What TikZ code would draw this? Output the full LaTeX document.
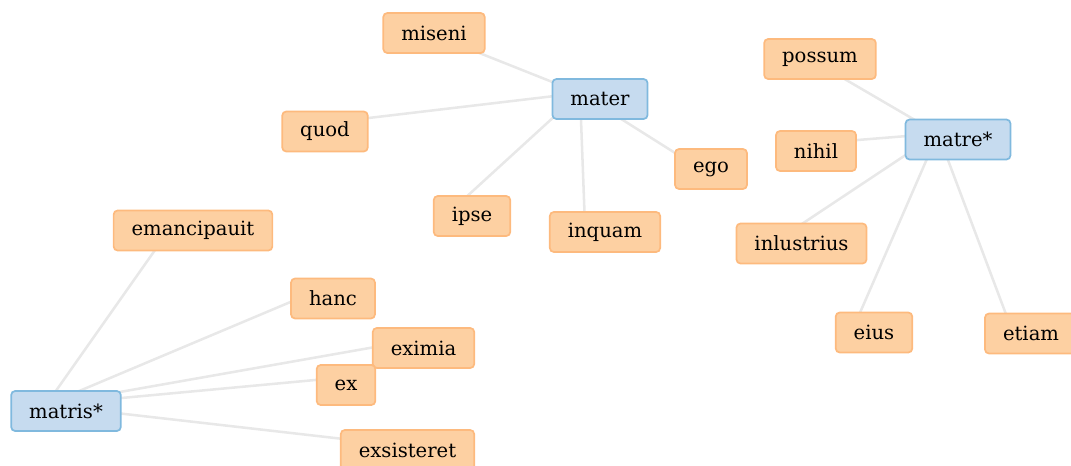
\documentclass[tikz,border=0pt]{standalone}
\usepackage{fontspec}
\setmainfont{DejaVu Serif}
\usetikzlibrary{backgrounds}
\definecolor{wordfill}{HTML}{FDD0A2}
\definecolor{worddraw}{HTML}{FDBA7E}
\definecolor{keyfill}{HTML}{C6DBEF}
\definecolor{keydraw}{HTML}{80B9DE}
\definecolor{linkgray}{HTML}{E8E8E8}

\begin{document}
\begin{tikzpicture}[x=0.75pt,y=-0.75pt]
\tikzstyle{every node}+=[font=\fontsize{14.7}{16}\selectfont, rounded corners=3pt, line width=1.3pt, minimum height=30pt, inner xsep=13.5pt]
\tikzstyle{word}=[draw=worddraw, fill=wordfill]
\tikzstyle{key}=[draw=keydraw, fill=keyfill]
\tikzstyle{link}=[linkgray, line width=1.9pt]
\useasboundingbox (0,0) rectangle (1071,465);
% mater
\node [key] (mater) at (600,99) {mater};
\node [word] (miseni) at (434,33) {miseni};
\node [word] (quod) at (325,131.5) {quod};
\node [word] (ipse) at (472,216) {ipse};
\node [word] (inquam) at (605,232) {inquam};
\node [word] (ego) at (711,169) {ego};
% matre*
\node [key] (matre) at (958,139.5) {matre*};
\node [word] (possum) at (820,59) {possum};
\node [word] (nihil) at (816,151) {nihil};
\node [word] (inlustrius) at (801.5,243.5) {inlustrius};
\node [word] (eius) at (874,332.5) {eius};
\node [word] (etiam) at (1031,333.5) {etiam};
% matris*
\node [key] (matris) at (66,411) {matris*};
\node [word] (emancipauit) at (193,230.5) {emancipauit};
\node [word] (hanc) at (333,298.5) {hanc};
\node [word] (eximia) at (423.5,348) {eximia};
\node [word] (ex) at (346,385) {ex};
\node [word] (exsisteret) at (407.5,450) {exsisteret};
\begin{scope}[on background layer]
\foreach \a/\b in {mater/miseni, mater/quod, mater/ipse, mater/inquam, mater/ego,
  matre/possum, matre/nihil, matre/inlustrius, matre/eius, matre/etiam,
  matris/emancipauit, matris/hanc, matris/eximia, matris/ex, matris/exsisteret}
  \draw [link] ([shift={(-20,-6)}]\a.center) -- ([shift={(-20,-6)}]\b.center);
\end{scope}
\end{tikzpicture}
\end{document}
